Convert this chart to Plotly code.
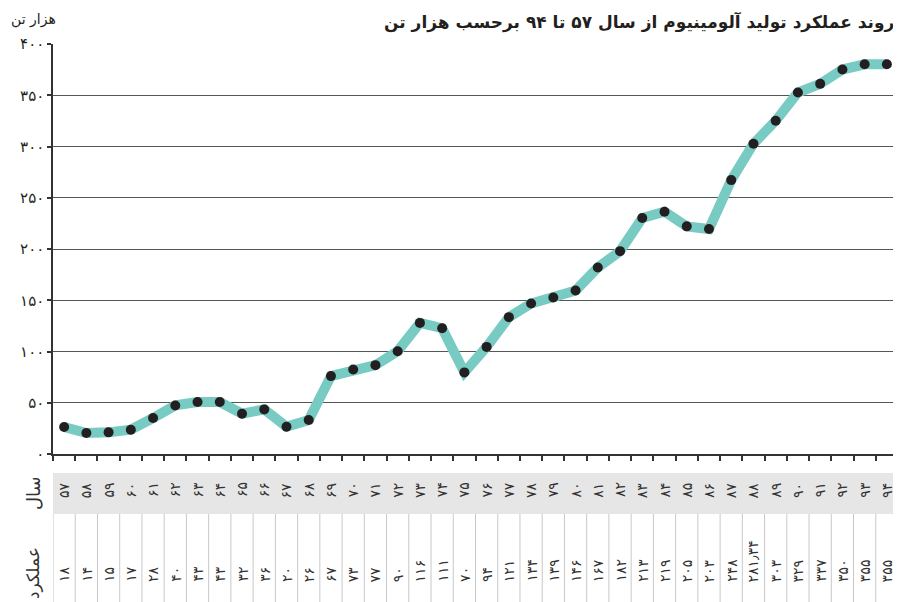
import plotly.graph_objects as go

FA = str.maketrans("0123456789.", "۰۱۲۳۴۵۶۷۸۹٫")

def fa(s):
    return str(s).translate(FA)

# ---- data ----
years = list(range(57, 95))
plotted_values = [26.3, 20.5, 21.1, 23.7, 35.1, 47.4, 50.7, 50.7, 39.3, 43.5,
                  26.6, 33.1, 76.0, 82.5, 86.7, 100.3, 127.9, 122.7, 79.6, 104.5,
                  133.5, 146.8, 152.6, 159.5, 181.9, 197.9, 230.2, 236.4, 222.1, 219.5,
                  267.2, 302.7, 325.1, 352.7, 361.1, 375.1, 380.2, 380.2]
table_values = ["18", "14", "15", "17", "28", "40", "43", "43", "32", "36",
                "20", "26", "67", "73", "77", "90", "116", "111", "70", "94",
                "121", "134", "139", "146", "167", "182", "213", "219", "205", "203",
                "248", "281.34", "303", "329", "337", "350", "355", "355"]
y_ticks = [0, 50, 100, 150, 200, 250, 300, 350, 400]

title_text = "روند عملکرد تولید آلومینیوم از سال ۵۷ تا ۹۴ برحسب هزار تن"
y_title = "هزار تن"
row_year = "سال"
row_value = "عملکرد"

FONT = "DejaVu Sans"
OFF = 8                      # page body offset
W, H = 901 - OFF, 602 - OFF
ML, MR, MT, MB = 53 - OFF, 3, 44 - OFF, 148
PH = H - MT - MB
PW = W - ML - MR

def py(pix):
    # page pixel row -> paper y
    return (H - MB - (pix - OFF)) / PH

def px(pix):
    return (pix - OFF - ML) / PW

n = len(years)
xs = list(range(n))

fig = go.Figure()
fig.add_trace(go.Scatter(
    x=xs, y=plotted_values, mode="lines",
    line=dict(color="#77CBC2", width=10), hoverinfo="skip", showlegend=False))
fig.add_trace(go.Scatter(
    x=xs, y=plotted_values, mode="markers",
    marker=dict(color="#231F20", size=10, symbol="circle"),
    showlegend=False))

shapes = []
shapes.append(dict(type="rect", xref="x", yref="paper", x0=-0.5, x1=n - 0.5,
                   y0=py(514), y1=py(473), fillcolor="#E6E6E6", line=dict(width=0),
                   layer="below"))
for i in range(n + 1):
    shapes.append(dict(type="line", xref="x", yref="paper", x0=i - 0.5, x1=i - 0.5,
                       y0=py(602), y1=py(514), line=dict(color="#C8C8C8", width=1)))

annotations = []
for i, (yr, v) in enumerate(zip(years, table_values)):
    annotations.append(dict(x=i, y=py(490), xref="x", yref="paper", text=fa(yr),
                            showarrow=False, textangle=-90, xanchor="center",
                            yanchor="middle",
                            font=dict(family=FONT, size=14, color="#333333")))
    annotations.append(dict(x=i, y=py(584), xref="x", yref="paper", text=fa(v),
                            showarrow=False, textangle=-90, xanchor="center",
                            yanchor="bottom",
                            font=dict(family=FONT, size=14, color="#333333")))

annotations.append(dict(x=px(33), y=py(493), xref="paper", yref="paper",
                        text=row_year, showarrow=False, textangle=-90,
                        xanchor="center", yanchor="middle",
                        font=dict(family=FONT, size=18, color="#333333")))
annotations.append(dict(x=px(33), y=py(601), xref="paper", yref="paper",
                        text=row_value, showarrow=False, textangle=-90,
                        xanchor="center", yanchor="bottom",
                        font=dict(family=FONT, size=17, color="#333333")))
annotations.append(dict(x=px(896), y=py(9), xref="paper", yref="paper",
                        text="<b>" + title_text + "</b>",
                        showarrow=False, xanchor="right", yanchor="top",
                        font=dict(family=FONT, size=17, color="#231F20")))
annotations.append(dict(x=px(9), y=py(9), xref="paper", yref="paper",
                        text=y_title, showarrow=False, xanchor="left", yanchor="top",
                        font=dict(family=FONT, size=14, color="#231F20")))

fig.update_layout(
    width=W, height=H,
    margin=dict(l=ML, r=MR, t=MT, b=MB, autoexpand=False),
    paper_bgcolor="white", plot_bgcolor="white",
    showlegend=False,
    shapes=shapes, annotations=annotations,
    xaxis=dict(range=[-0.5, n - 0.5], tickvals=[i - 0.5 for i in range(n + 1)],
               ticktext=[""] * (n + 1), ticks="outside", ticklen=5, tickwidth=1.5,
               tickcolor="#333", showgrid=False, zeroline=False, automargin=False,
               showline=True, linecolor="#333", linewidth=1.5, fixedrange=True),
    yaxis=dict(range=[0, 400], tickvals=y_ticks, ticktext=[fa(t) for t in y_ticks],
               ticks="outside", ticklen=4, tickwidth=1.5, tickcolor="#333",
               showgrid=True, gridcolor="#555555", gridwidth=1.3, zeroline=False,
               showline=True, linecolor="#333", linewidth=1.5, automargin=False,
               tickfont=dict(family=FONT, size=15, color="#231F20"), fixedrange=True),
)

fig.write_html("out.html")
